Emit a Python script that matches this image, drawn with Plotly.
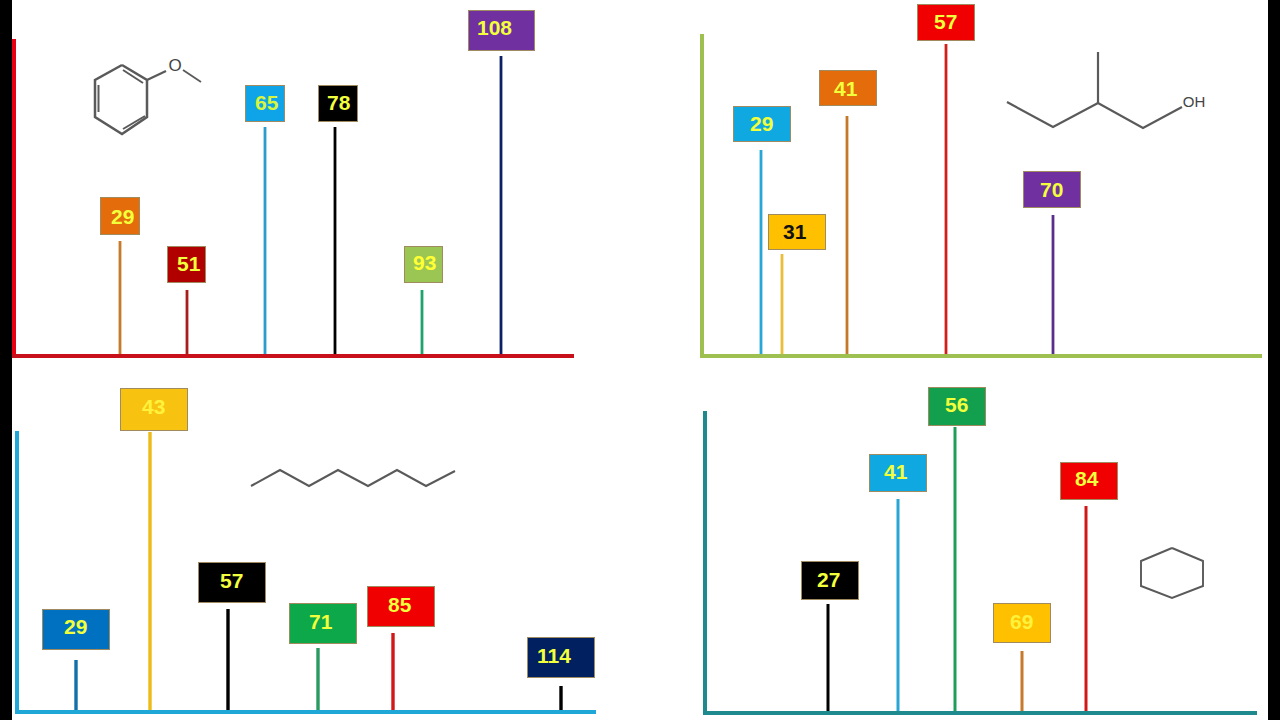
import plotly.graph_objects as go

W, H = 1280, 720
FONT = "Liberation Sans"
YEL = "#F2FF3C"

# ---------- data: four mass spectra (positions along each axis, peak heights, labels) ----------
anisole_labels = ["29", "51", "65", "78", "93", "108"]
anisole_x = [106, 173, 251, 321, 408, 487]
anisole_h = [115, 66, 229, 229, 66, 300]

alcohol_labels = ["29", "31", "41", "57", "70"]
alcohol_x = [59, 80, 145, 244, 351]
alcohol_h = [206, 102, 240, 312, 141]

octane_labels = ["29", "43", "57", "71", "85", "114"]
octane_x = [59, 133, 211, 301, 376, 544]
octane_h = [52, 280, 103, 64, 79, 26]

cyclohexane_labels = ["27", "41", "56", "69", "84"]
cyclohexane_x = [122.3, 192.3, 249.3, 316.3, 380.3]
cyclohexane_h = [109, 214, 286, 62, 207]

# ---------- panels: pixel frame, axis style, marks' style ----------
panels = [
    dict(left=14, right=574, top=39, base=356, lc="#E60012", bc="#C8101A", lw=3.5, sw=2.8,
         labels=anisole_labels, x=anisole_x, h=anisole_h,
         stem=["#C77A2C", "#A81C1C", "#2C9CCB", "#000000", "#1FA36A", "#0A1F66"],
         fill=["#E46C0A", "#B00000", "#0FA4E8", "#000000", "#9CC653", "#7030A0"],
         txt=[YEL, YEL, "#D8F53C", YEL, "#FFFF33", YEL],
         dx=[0, -0.5, 0, 3, 1, 0], gap=[6, 7, 5, 5, 7, 5],
         tdx=[2, 2, 2, 1, 1.5, -6.5], tdy=[0, 1, 1, 1, 2, 3],
         bw=[40, 39, 40, 40, 39, 67], bh=[38, 37, 37, 37, 37, 41]),
    dict(left=702, right=1262, top=34, base=356, lc="#9DC050", bc="#9DC050", lw=3.5, sw=2.8,
         labels=alcohol_labels, x=alcohol_x, h=alcohol_h,
         stem=["#2AA6D6", "#E8BE3A", "#C5782C", "#D0201C", "#5B2E8C"],
         fill=["#0FA8E0", "#FFC000", "#E46C0A", "#F00000", "#7030A0"],
         txt=[YEL, "#111111", YEL, YEL, YEL],
         dx=[1, 14.5, 0.5, -0.5, -1], gap=[8, 4, 10, 3, 7],
         tdx=[-1, -1.5, -1.5, -0.5, -1], tdy=[1, 0, 0, 1, 0],
         bw=[58] * 5, bh=[36, 36, 36, 37, 37]),
    dict(left=17, right=596, top=431, base=712, lc="#1FA7D8", bc="#1FA7D8", lw=3.5, sw=3.4,
         labels=octane_labels, x=octane_x, h=octane_h,
         stem=["#1270A8", "#EDBB16", "#000000", "#2A9A60", "#D01818", "#000000"],
         fill=["#0070C0", "#F8C210", "#000000", "#0DA84A", "#F00000", "#002060"],
         txt=[YEL, "#FFF23C", YEL, YEL, YEL, YEL],
         dx=[0, 4, 4, 5, 8, 0], gap=[10, 1, 6, 4, 6, 8],
         tdx=[-1, -1, -1, -2, -1, -7], tdy=[3, 3, 2, 2, 2, 2],
         bw=[68] * 6, bh=[41, 43, 41, 41, 41, 41]),
    dict(left=705.7, right=1257, top=411, base=713, lc="#1F8A8E", bc="#1F8A8E", lw=3.5, sw=3.0,
         labels=cyclohexane_labels, x=cyclohexane_x, h=cyclohexane_h,
         stem=["#000000", "#2AA6D6", "#1F9E5A", "#C77A2C", "#D01818"],
         fill=["#000000", "#0FA8E0", "#13A04E", "#FFC000", "#F00000"],
         txt=[YEL, YEL, YEL, "#FFF23C", YEL],
         dx=[2, 0, 2, 0, 3], gap=[4, 7, 1, 8, 6],
         tdx=[-2, -2, -1, -1, -2], tdy=[1, 2, 2, 2, 2],
         bw=[58] * 5, bh=[39, 38, 39, 40, 38]),
]

# ---------- molecule sketches, on a full-canvas overlay axis ----------
GREY = "#5A5A5A"
molecule_paths = [
    # anisole ring, double bonds, O bonds
    ([122, 147, 147, 122, 95, 95, 122], [65, 80, 117, 134, 117, 80, 65], 2.5),
    ([123, 143], [70, 83], 2.0),
    ([98.5, 98.5], [85, 112], 2.0),
    ([123, 145], [129, 116], 2.0),
    ([147, 166], [80, 71], 2.3),
    ([183, 201], [70, 82], 1.8),
    # 2-methylbutanol
    ([1007, 1053, 1098, 1143, 1182], [102, 127, 103, 128, 107], 2.2),
    ([1098, 1098], [103, 52], 2.2),
    # octane
    ([251, 280, 309, 338, 368, 397, 426, 455], [486, 470, 486, 470, 486, 470, 486, 471], 2.0),
    # cyclohexane
    ([1172, 1203, 1203, 1172, 1141, 1141, 1172], [548, 561, 586, 598, 586, 561, 548], 1.9),
]
molecule_text = [("O", 175, 67, 17), ("OH", 1194, 103, 15)]

fig = go.Figure()
annots = []
layout_axes = {}

for i, p in enumerate(panels, start=1):
    xn, yn = f"x{i}", f"y{i}"
    width, height = p["right"] - p["left"], p["base"] - p["top"]
    half = p["lw"] / 2  # plotly draws the axis line just outside the domain
    common = dict(showgrid=False, zeroline=False, ticks="", showticklabels=False,
                  showline=True, linewidth=p["lw"], fixedrange=True)
    layout_axes[f"xaxis{i}"] = dict(domain=[(p["left"] + half) / W, p["right"] / W], range=[half, width],
                                    anchor=yn, linecolor=p["bc"], **common)
    layout_axes[f"yaxis{i}"] = dict(domain=[1 - (p["base"] - half) / H, 1 - p["top"] / H], range=[half, height],
                                    anchor=xn, linecolor=p["lc"], **common)
    for j, lab in enumerate(p["labels"]):
        fig.add_trace(go.Scatter(x=[p["x"][j], p["x"][j]], y=[0, p["h"][j]], mode="lines",
                                 xaxis=xn, yaxis=yn, showlegend=False, hoverinfo="skip",
                                 line=dict(color=p["stem"][j], width=p["sw"])))
        cx = p["left"] + p["x"][j] + p["dx"][j]
        cy = p["base"] - p["h"][j] - p["gap"][j] - p["bh"][j] / 2
        annots.append(dict(text=" ", xref="paper", yref="paper",
                           x=cx / W, y=1 - cy / H, xanchor="center", yanchor="middle",
                           showarrow=False, width=p["bw"][j] - 2, height=p["bh"][j] - 2,
                           borderpad=0, borderwidth=1, bordercolor="#A08A60",
                           bgcolor=p["fill"][j], font=dict(family=FONT, size=10)))
        annots.append(dict(text=f"<b>{lab}</b>", xref="paper", yref="paper",
                           x=cx / W, y=1 - cy / H, xanchor="center", yanchor="middle",
                           xshift=p["tdx"][j], yshift=p["tdy"][j], showarrow=False,
                           font=dict(family=FONT, size=21, color=p["txt"][j])))

# overlay axis in canvas units for the molecule drawings
layout_axes["xaxis5"] = dict(domain=[0, 1], range=[0, W], visible=False, anchor="y5", fixedrange=True)
layout_axes["yaxis5"] = dict(domain=[0, 1], range=[H, 0], visible=False, anchor="x5", fixedrange=True)
for mx, my, lw in molecule_paths:
    fig.add_trace(go.Scatter(x=mx, y=my, mode="lines", xaxis="x5", yaxis="y5", showlegend=False,
                             hoverinfo="skip", line=dict(color=GREY, width=lw)))
for t, tx, ty, size in molecule_text:
    fig.add_trace(go.Scatter(x=[tx], y=[ty], mode="text", text=[t], textposition="middle center",
                             xaxis="x5", yaxis="y5", showlegend=False, hoverinfo="skip",
                             textfont=dict(family=FONT, size=size, color="#444444")))

fig.update_layout(
    width=W, height=H, autosize=False, margin=dict(l=0, r=0, t=0, b=0, pad=0),
    paper_bgcolor="#000000", plot_bgcolor="rgba(0,0,0,0)", showlegend=False,
    annotations=annots,
    shapes=[dict(type="rect", xref="paper", yref="paper", x0=12 / W, x1=1268 / W, y0=0, y1=1,
                 fillcolor="#FFFFFF", line=dict(width=0), layer="below")],
    **layout_axes,
)

fig.write_html("out.html", config=dict(displayModeBar=False),
               post_script="document.body.style.margin='0';document.body.style.overflow='hidden';")
